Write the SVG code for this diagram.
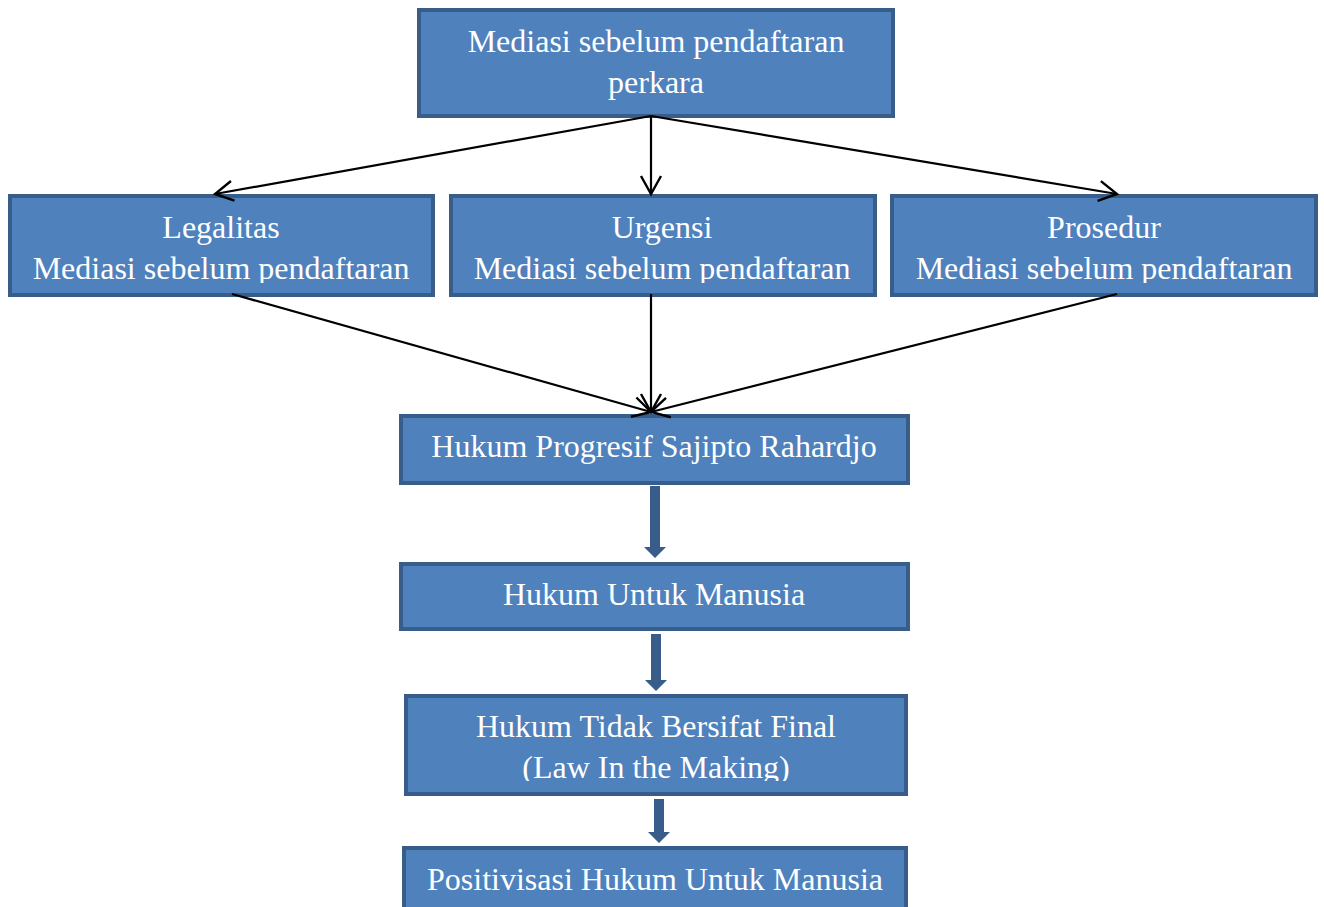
<svg xmlns="http://www.w3.org/2000/svg" width="1324" height="907" viewBox="0 0 1324 907">
<style>
.box{fill:#4F81BD;stroke:#385D8A;stroke-width:4}
.t{font-family:"Liberation Serif","Times New Roman",serif;font-size:32px;fill:#FFFFFF;text-anchor:middle}
.thin{fill:none;stroke:#000000;stroke-width:2.2;marker-end:url(#open)}
.thick{fill:#385D8A}
</style>
<defs>
<marker id="open" markerWidth="22" markerHeight="24" refX="19" refY="12" orient="auto" markerUnits="userSpaceOnUse">
<path d="M1,2 L19,12 L1,22" fill="none" stroke="#000000" stroke-width="2.4"/>
</marker>
<clipPath id="c2"><rect x="0" y="200" width="1324" height="83"/></clipPath>
<clipPath id="c6"><rect x="0" y="700" width="1324" height="81"/></clipPath>
</defs>
<rect width="1324" height="907" fill="#FFFFFF"/>
<g id="n1">
<rect class="box" x="419" y="10" width="474" height="106"/>
<text class="t" x="656" y="52">Mediasi sebelum pendaftaran</text>
<text class="t" x="656" y="93">perkara</text>
</g>
<g id="n2">
<rect class="box" x="10" y="196" width="423" height="99"/>
<g clip-path="url(#c2)">
<text class="t" x="221" y="238">Legalitas</text>
<text class="t" x="221" y="279">Mediasi sebelum pendaftaran</text>
</g>
</g>
<g id="n3">
<rect class="box" x="451" y="196" width="424" height="99"/>
<g clip-path="url(#c2)">
<text class="t" x="662" y="238">Urgensi</text>
<text class="t" x="662" y="279">Mediasi sebelum pendaftaran</text>
</g>
</g>
<g id="n4">
<rect class="box" x="892" y="196" width="424" height="99"/>
<g clip-path="url(#c2)">
<text class="t" x="1104" y="238">Prosedur</text>
<text class="t" x="1104" y="279">Mediasi sebelum pendaftaran</text>
</g>
</g>
<g id="n5">
<rect class="box" x="401" y="416" width="507" height="67"/>
<text class="t" x="654" y="457">Hukum Progresif Sajipto Rahardjo</text>
</g>
<g id="n6">
<rect class="box" x="401" y="564" width="507" height="65"/>
<text class="t" x="654" y="605">Hukum Untuk Manusia</text>
</g>
<g id="n7">
<rect class="box" x="406" y="696" width="500" height="98"/>
<g clip-path="url(#c6)">
<text class="t" x="656" y="737">Hukum Tidak Bersifat Final</text>
<text class="t" x="656" y="778">(Law In the Making)</text>
</g>
</g>
<g id="n8">
<rect class="box" x="404" y="848" width="502" height="70"/>
<text class="t" x="655" y="890">Positivisasi Hukum Untuk Manusia</text>
</g>
<g id="connectors">
<line class="thin" x1="651" y1="116" x2="215" y2="194"/>
<line class="thin" x1="651" y1="116" x2="651" y2="194"/>
<line class="thin" x1="651" y1="116" x2="1117" y2="194"/>
<line class="thin" x1="232" y1="294" x2="651" y2="412"/>
<line class="thin" x1="651" y1="294" x2="651" y2="412"/>
<line class="thin" x1="1117" y1="294" x2="651" y2="412"/>
<polygon class="thick" points="650,486 660,486 660,547 666,547 655,558 644,547 650,547"/>
<polygon class="thick" points="651,634 661,634 661,680 667,680 656,691 645,680 651,680"/>
<polygon class="thick" points="654,799 664,799 664,832 670,832 659,843 648,832 654,832"/>
</g>
</svg>
